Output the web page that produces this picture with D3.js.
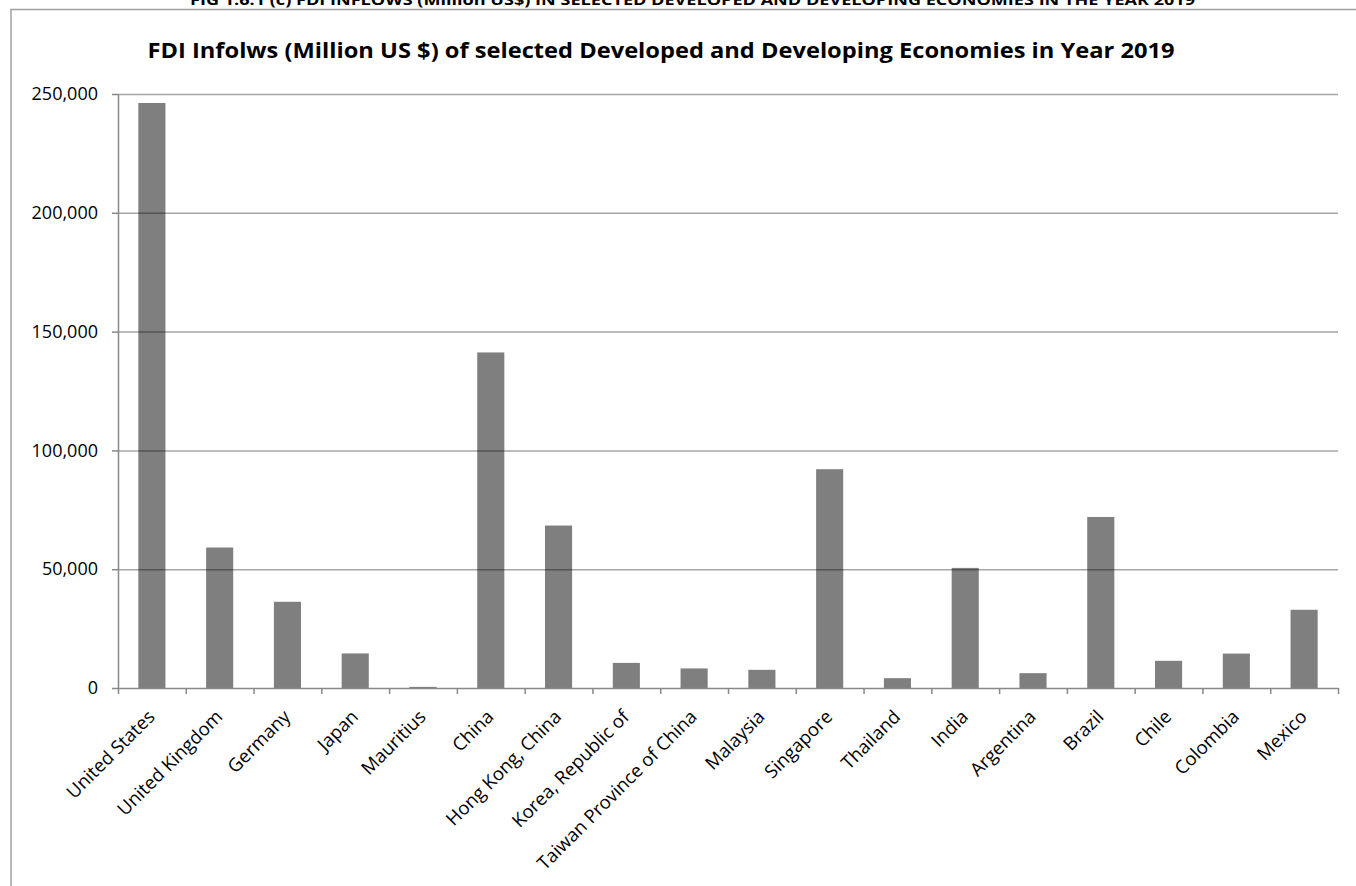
<!DOCTYPE html>
<html>
<head>
<meta charset="utf-8">
<script src="https://cdn.jsdelivr.net/npm/d3@7"></script>
<style>
  body { margin: 0; background: #fff; }
  svg { display: block; font-family: "Open Sans", sans-serif; }
</style>
</head>
<body>
<div id="chart"></div>
<script>
const countries = [
  "United States", "United Kingdom", "Germany", "Japan", "Mauritius", "China",
  "Hong Kong, China", "Korea, Republic of", "Taiwan Province of China", "Malaysia",
  "Singapore", "Thailand", "India", "Argentina", "Brazil", "Chile", "Colombia", "Mexico"
];
const fdiInflows = [
  246215, 59137, 36285, 14552, 472, 141225,
  68379, 10566, 8237, 7650,
  92081, 4146, 50553, 6244, 71989, 11437, 14493, 32921
];
const yTicks = [0, 50000, 100000, 150000, 200000, 250000];
const figTitle = "FIG 1.6.1 (c) FDI INFLOWS (Million US$) IN SELECTED DEVELOPED AND DEVELOPING ECONOMIES IN THE YEAR 2019";
const chartTitle = "FDI Infolws (Million US $) of selected Developed and Developing Economies in Year 2019";

(function () {
  const width = 1356, height = 886;
  const plot = { left: 118, right: 1338, top: 94, bottom: 688 };

  const svg = d3.select("#chart")
    .append("svg")
    .attr("width", width)
    .attr("height", height);

  // chart frame (right and bottom edges run off the page)
  svg.append("rect")
    .attr("x", 11)
    .attr("y", 9.5)
    .attr("width", 1400)
    .attr("height", 1000)
    .attr("fill", "none")
    .attr("stroke", "#a0a0a0")
    .attr("stroke-width", 1.5);

  // figure caption, clipped at the top of the page as in the source
  svg.append("text")
    .attr("x", 190)
    .attr("y", 5)
    .attr("textLength", 1005)
    .attr("lengthAdjust", "spacingAndGlyphs")
    .attr("font-size", 14)
    .attr("font-weight", "bold")
    .text(figTitle);

  svg.append("text")
    .attr("x", 661)
    .attr("y", 58)
    .attr("text-anchor", "middle")
    .attr("textLength", 1027)
    .attr("lengthAdjust", "spacingAndGlyphs")
    .attr("font-size", 22)
    .attr("font-weight", "bold")
    .text(chartTitle);

  const x = d3.scaleBand()
    .domain(countries)
    .range([plot.left, plot.right])
    .paddingInner(0.6)
    .paddingOuter(0.3);

  const y = d3.scaleLinear()
    .domain([0, 250000])
    .range([plot.bottom, plot.top]);

  // gridlines
  svg.append("g")
    .attr("transform", `translate(${plot.left},0)`)
    .call(d3.axisLeft(y).tickValues(yTicks.slice(1)).tickSize(-(plot.right - plot.left)).tickFormat(""))
    .call(g => g.select(".domain").remove())
    .call(g => g.selectAll("line").attr("stroke", "#a6a6a6").attr("stroke-width", 1.5));

  // bars (semi-transparent so gridlines show darker through them)
  svg.append("g")
    .selectAll("rect")
    .data(countries)
    .join("rect")
    .attr("x", d => x(d))
    .attr("y", (d, i) => y(fdiInflows[i]))
    .attr("width", x.bandwidth())
    .attr("height", (d, i) => y(0) - y(fdiInflows[i]))
    .attr("fill", "#000")
    .attr("fill-opacity", 0.5);

  // y axis
  svg.append("g")
    .attr("transform", `translate(${plot.left},0)`)
    .call(d3.axisLeft(y).tickValues(yTicks).tickSize(6).tickSizeOuter(0).tickPadding(14).tickFormat(d3.format(",")))
    .call(g => g.select(".domain").attr("stroke", "#888").attr("stroke-width", 1.5))
    .call(g => g.selectAll("line").attr("stroke", "#888").attr("stroke-width", 1.5))
    .call(g => g.selectAll("text")
      .attr("font-family", "Open Sans, sans-serif")
      .attr("font-size", 18)
      .attr("fill", "#000"));

  // x axis: ticks sit on category boundaries
  const edges = d3.scaleLinear().domain([0, countries.length]).range([plot.left, plot.right]);
  svg.append("g")
    .attr("transform", `translate(0,${plot.bottom})`)
    .call(d3.axisBottom(edges).tickValues(d3.range(countries.length + 1)).tickSize(6).tickSizeOuter(0).tickFormat(""))
    .call(g => g.select(".domain").attr("stroke", "#888").attr("stroke-width", 1.5))
    .call(g => g.selectAll("line").attr("stroke", "#888").attr("stroke-width", 1.5));

  svg.append("g")
    .selectAll("text")
    .data(countries)
    .join("text")
    .attr("transform", d => `translate(${x(d) + x.bandwidth() / 2 + 4},${plot.bottom + 30}) rotate(-45)`)
    .attr("text-anchor", "end")
    .attr("font-size", 18.5)
    .attr("fill", "#000")
    .text(d => d);
})();
</script>
</body>
</html>
